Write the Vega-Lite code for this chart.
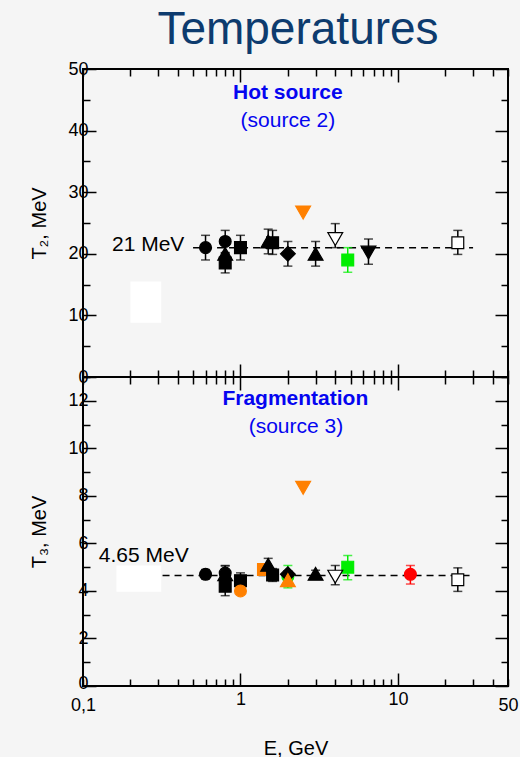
{
  "$schema": "https://vega.github.io/schema/vega-lite/v6.json",
  "background": "#f5f5f5",
  "padding": {"left": 28, "top": 7, "right": 4, "bottom": 0},
  "title": {
    "text": "Temperatures",
    "font": "Liberation Sans",
    "fontSize": 46,
    "fontWeight": "normal",
    "color": "#0d3b6e",
    "anchor": "middle",
    "dx": 24,
    "offset": 5
  },
  "spacing": 0,
  "bounds": "flush",
  "datasets": {
    "t2": [
      {"E": 0.6, "T": 21, "lo": 19, "hi": 23, "kind": "black", "symbol": "circle"},
      {"E": 0.8, "T": 22, "lo": 20.2, "hi": 23.8, "kind": "black", "symbol": "circle"},
      {"E": 0.8, "T": 20, "lo": 18, "hi": 22, "kind": "black", "symbol": "triangle-up"},
      {"E": 0.8, "T": 18.5, "lo": 16.9, "hi": 20.1, "kind": "black", "symbol": "square"},
      {"E": 1.0, "T": 21, "lo": 19, "hi": 23, "kind": "black", "symbol": "square"},
      {"E": 1.5, "T": 22, "lo": 20, "hi": 24, "kind": "black", "symbol": "triangle-up"},
      {"E": 1.6, "T": 21.8, "lo": 19.9, "hi": 23.8, "kind": "black", "symbol": "square"},
      {"E": 2.0, "T": 20, "lo": 18, "hi": 22, "kind": "black", "symbol": "diamond"},
      {"E": 2.5, "T": 26.7, "kind": "orange", "symbol": "triangle-down"},
      {"E": 3.0, "T": 20, "lo": 18, "hi": 22, "kind": "black", "symbol": "triangle-up"},
      {"E": 4.0, "T": 22.4, "lo": 21, "hi": 24.9, "kind": "open", "symbol": "triangle-down"},
      {"E": 4.8, "T": 19, "lo": 17, "hi": 21, "kind": "green", "symbol": "square"},
      {"E": 6.5, "T": 20.2, "lo": 18.3, "hi": 22.4, "kind": "black", "symbol": "triangle-down"},
      {"E": 24, "T": 21.8, "lo": 19.9, "hi": 23.8, "kind": "open", "symbol": "square"}
    ],
    "t3": [
      {"E": 0.6, "T": 4.7, "lo": 4.5, "hi": 4.9, "kind": "black", "symbol": "circle"},
      {"E": 0.8, "T": 4.75, "lo": 4.45, "hi": 5.05, "kind": "black", "symbol": "circle"},
      {"E": 0.8, "T": 4.7, "lo": 4.4, "hi": 5.07, "kind": "black", "symbol": "triangle-up"},
      {"E": 0.8, "T": 4.2, "lo": 3.8, "hi": 4.6, "kind": "black", "symbol": "square"},
      {"E": 1.0, "T": 4.43, "lo": 4.1, "hi": 4.76, "kind": "black", "symbol": "square"},
      {"E": 1.0, "T": 4.0, "lo": 3.85, "hi": 4.15, "kind": "orange", "symbol": "circle"},
      {"E": 1.4, "T": 4.9, "kind": "orange", "symbol": "square"},
      {"E": 1.5, "T": 5.1, "lo": 4.85, "hi": 5.37, "kind": "black", "symbol": "triangle-up"},
      {"E": 1.6, "T": 4.67, "lo": 4.4, "hi": 4.94, "kind": "black", "symbol": "square"},
      {"E": 2.0, "T": 4.7, "lo": 4.55, "hi": 4.85, "kind": "black", "symbol": "diamond"},
      {"E": 2.0, "T": 4.45, "kind": "orange", "symbol": "triangle-up"},
      {"E": 2.0, "T": 4.6, "lo": 4.13, "hi": 5.07, "kind": "green", "symbol": "circle"},
      {"E": 2.5, "T": 8.34, "kind": "orange", "symbol": "triangle-down"},
      {"E": 3.0, "T": 4.72, "lo": 4.57, "hi": 4.87, "kind": "black", "symbol": "triangle-up"},
      {"E": 4.0, "T": 4.6, "lo": 4.26, "hi": 5.07, "kind": "open", "symbol": "triangle-down"},
      {"E": 4.8, "T": 5.0, "lo": 4.47, "hi": 5.49, "kind": "green", "symbol": "square"},
      {"E": 12, "T": 4.7, "lo": 4.29, "hi": 5.07, "kind": "red", "symbol": "circle"},
      {"E": 24, "T": 4.47, "lo": 3.98, "hi": 4.97, "kind": "open", "symbol": "square"}
    ]
  },
  "vconcat": [
    {
      "width": 425,
      "height": 308,
      "resolve": {"axis": {"x": "independent", "y": "independent"}},
      "layer": [
        {
          "data": {"values": [{"x1": 0.5, "x2": 30, "y": 21}]},
          "mark": {"type": "rule", "color": "black", "strokeWidth": 1.5, "strokeDash": [7, 5]},
          "encoding": {
            "x": {"field": "x1", "type": "quantitative",
              "scale": {"type": "log", "domain": [0.1, 50], "nice": false},
              "axis": {"orient": "bottom", "title": null, "labels": false,
                "values": [0.1, 0.2, 0.3, 0.4, 0.5, 0.6, 0.7, 0.8, 0.9, 1, 2, 3, 4, 5, 6, 7, 8, 9, 10, 20, 30, 40, 50],
                "tickSize": {"condition": {"test": "datum.value == 1 || datum.value == 10", "value": -13}, "value": -7}}},
            "x2": {"field": "x2"},
            "y": {"field": "y", "type": "quantitative",
              "scale": {"domain": [0, 50], "nice": false},
              "axis": {"orient": "left", "title": "T₂, MeV", "titlePadding": 18,
                "values": [0, 5, 10, 15, 20, 25, 30, 35, 40, 45, 50],
                "labelExpr": "datum.value % 10 == 0 ? datum.label : ''",
                "tickSize": {"condition": {"test": "datum.value % 10 == 0", "value": -13}, "value": -7}}}
          }
        },
        {
          "data": {"values": [{"x1": 0.2, "x2": 0.314, "y1": 8.8, "y2": 15.5}]},
          "mark": {"type": "rect", "color": "white"},
          "encoding": {
            "x": {"field": "x1", "type": "quantitative",
              "axis": {"orient": "top", "title": null, "labels": false,
                "values": [0.1, 0.2, 0.3, 0.4, 0.5, 0.6, 0.7, 0.8, 0.9, 1, 2, 3, 4, 5, 6, 7, 8, 9, 10, 20, 30, 40, 50],
                "tickSize": {"condition": {"test": "datum.value == 1 || datum.value == 10", "value": -13}, "value": -7}}},
            "x2": {"field": "x2"},
            "y": {"field": "y1", "type": "quantitative",
              "axis": {"orient": "right", "title": null, "labels": false,
                "values": [0, 5, 10, 15, 20, 25, 30, 35, 40, 45, 50],
                "tickSize": {"condition": {"test": "datum.value % 10 == 0", "value": -13}, "value": -7}}},
            "y2": {"field": "y2"}
          }
        },
        {
          "data": {"name": "t2"},
          "transform": [{"filter": "isValid(datum.lo)"}],
          "mark": {"type": "rule", "strokeWidth": 1.5},
          "encoding": {
            "x": {"field": "E", "type": "quantitative", "axis": null},
            "y": {"field": "lo", "type": "quantitative", "axis": null},
            "y2": {"field": "hi"},
            "stroke": {"field": "kind", "type": "nominal", "legend": null,
              "scale": {"domain": ["black", "orange", "green", "red", "open"], "range": ["black", "#ff8000", "#00ee00", "#ff0000", "black"]}}
          }
        },
        {
          "data": {"name": "t2"},
          "transform": [{"filter": "isValid(datum.lo)"}, {"fold": ["lo", "hi"], "as": ["end", "val"]}],
          "mark": {"type": "tick", "orient": "horizontal", "size": 9, "thickness": 1.5},
          "encoding": {
            "x": {"field": "E", "type": "quantitative", "axis": null},
            "y": {"field": "val", "type": "quantitative", "axis": null},
            "color": {"field": "kind", "type": "nominal", "legend": null,
              "scale": {"domain": ["black", "orange", "green", "red", "open"], "range": ["black", "#ff8000", "#00ee00", "#ff0000", "black"]}}
          }
        },
        {
          "data": {"name": "t2"},
          "transform": [{"filter": "datum.symbol == 'circle' || datum.symbol == 'square'"}],
          "mark": {"type": "point", "filled": false, "size": 140, "strokeWidth": 1.2, "opacity": 1},
          "encoding": {
            "x": {"field": "E", "type": "quantitative", "axis": null},
            "y": {"field": "T", "type": "quantitative", "axis": null},
            "shape": {"field": "symbol", "type": "nominal", "legend": null,
              "scale": {"domain": ["circle", "square", "triangle-up", "triangle-down", "diamond"], "range": ["circle", "square", "triangle-up", "triangle-down", "diamond"]}},
            "fill": {"field": "kind", "type": "nominal", "legend": null,
              "scale": {"domain": ["black", "orange", "green", "red", "open"], "range": ["black", "#ff8000", "#00ee00", "#ff0000", "white"]}},
            "stroke": {"field": "kind", "type": "nominal", "legend": null,
              "scale": {"domain": ["black", "orange", "green", "red", "open"], "range": ["black", "#ff8000", "#00ee00", "#ff0000", "black"]}}
          }
        },
        {
          "data": {"name": "t2"},
          "transform": [{"filter": "datum.symbol != 'circle' && datum.symbol != 'square'"}],
          "mark": {"type": "point", "filled": false, "size": 220, "strokeWidth": 1.2, "opacity": 1},
          "encoding": {
            "x": {"field": "E", "type": "quantitative", "axis": null},
            "y": {"field": "T", "type": "quantitative", "axis": null},
            "shape": {"field": "symbol", "type": "nominal", "legend": null,
              "scale": {"domain": ["circle", "square", "triangle-up", "triangle-down", "diamond"], "range": ["circle", "square", "triangle-up", "triangle-down", "diamond"]}},
            "fill": {"field": "kind", "type": "nominal", "legend": null,
              "scale": {"domain": ["black", "orange", "green", "red", "open"], "range": ["black", "#ff8000", "#00ee00", "#ff0000", "white"]}},
            "stroke": {"field": "kind", "type": "nominal", "legend": null,
              "scale": {"domain": ["black", "orange", "green", "red", "open"], "range": ["black", "#ff8000", "#00ee00", "#ff0000", "black"]}}
          }
        },
        {
          "data": {"values": [{"x": 0.44, "y": 21, "label": "21 MeV"}]},
          "mark": {"type": "text", "align": "right", "baseline": "middle", "dy": -3, "fontSize": 21, "color": "black"},
          "encoding": {
            "x": {"field": "x", "type": "quantitative", "axis": null},
            "y": {"field": "y", "type": "quantitative", "axis": null},
            "text": {"field": "label"}
          }
        },
        {
          "data": {"values": [{"x": 2.0, "y": 45.2, "label": "Hot source"}]},
          "mark": {"type": "text", "align": "center", "baseline": "alphabetic", "fontSize": 21, "fontWeight": "bold", "color": "#0505f0"},
          "encoding": {
            "x": {"field": "x", "type": "quantitative", "axis": null},
            "y": {"field": "y", "type": "quantitative", "axis": null},
            "text": {"field": "label"}
          }
        },
        {
          "data": {"values": [{"x": 2.0, "y": 40.6, "label": "(source 2)"}]},
          "mark": {"type": "text", "align": "center", "baseline": "alphabetic", "fontSize": 21, "color": "#0505f0"},
          "encoding": {
            "x": {"field": "x", "type": "quantitative", "axis": null},
            "y": {"field": "y", "type": "quantitative", "axis": null},
            "text": {"field": "label"}
          }
        }
      ]
    },
    {
      "width": 425,
      "height": 309,
      "resolve": {"axis": {"x": "independent", "y": "independent"}},
      "layer": [
        {
          "data": {"values": [{"x1": 0.32, "x2": 30, "y": 4.65}]},
          "mark": {"type": "rule", "color": "black", "strokeWidth": 1.5, "strokeDash": [7, 5]},
          "encoding": {
            "x": {"field": "x1", "type": "quantitative",
              "scale": {"type": "log", "domain": [0.1, 50], "nice": false},
              "axis": {"orient": "bottom", "title": "E, GeV", "titlePadding": 24,
                "values": [0.1, 0.2, 0.3, 0.4, 0.5, 0.6, 0.7, 0.8, 0.9, 1, 2, 3, 4, 5, 6, 7, 8, 9, 10, 20, 30, 40, 50],
                "labelExpr": "datum.value == 0.1 ? '0,1' : (datum.value == 1 || datum.value == 10 || datum.value == 50 ? datum.label : '')",
                "labelPadding": 17,
                "tickSize": {"condition": {"test": "datum.value == 1 || datum.value == 10", "value": -13}, "value": -7}}},
            "x2": {"field": "x2"},
            "y": {"field": "y", "type": "quantitative",
              "scale": {"domain": [0, 13], "nice": false},
              "axis": {"orient": "left", "title": "T₃, MeV", "titlePadding": 18,
                "values": [0, 1, 2, 3, 4, 5, 6, 7, 8, 9, 10, 11, 12, 13],
                "labelExpr": "datum.value % 2 == 0 ? datum.label : ''",
                "labelOffset": {"condition": {"test": "datum.value == 0", "value": -3}, "value": 0},
                "tickSize": {"condition": {"test": "datum.value % 2 == 0", "value": -13}, "value": -7}}}
          }
        },
        {
          "data": {"values": [{"x1": 0.163, "x2": 0.314, "y1": 3.97, "y2": 5.07}]},
          "mark": {"type": "rect", "color": "white"},
          "encoding": {
            "x": {"field": "x1", "type": "quantitative",
              "axis": {"orient": "top", "title": null, "labels": false,
                "values": [0.1, 0.2, 0.3, 0.4, 0.5, 0.6, 0.7, 0.8, 0.9, 1, 2, 3, 4, 5, 6, 7, 8, 9, 10, 20, 30, 40, 50],
                "tickSize": {"condition": {"test": "datum.value == 1 || datum.value == 10", "value": -13}, "value": -7}}},
            "x2": {"field": "x2"},
            "y": {"field": "y1", "type": "quantitative",
              "axis": {"orient": "right", "title": null, "labels": false,
                "values": [0, 1, 2, 3, 4, 5, 6, 7, 8, 9, 10, 11, 12, 13],
                "tickSize": {"condition": {"test": "datum.value % 2 == 0", "value": -13}, "value": -7}}},
            "y2": {"field": "y2"}
          }
        },
        {
          "data": {"name": "t3"},
          "transform": [{"filter": "isValid(datum.lo)"}],
          "mark": {"type": "rule", "strokeWidth": 1.5},
          "encoding": {
            "x": {"field": "E", "type": "quantitative", "axis": null},
            "y": {"field": "lo", "type": "quantitative", "axis": null},
            "y2": {"field": "hi"},
            "stroke": {"field": "kind", "type": "nominal", "legend": null,
              "scale": {"domain": ["black", "orange", "green", "red", "open"], "range": ["black", "#ff8000", "#00ee00", "#ff0000", "black"]}}
          }
        },
        {
          "data": {"name": "t3"},
          "transform": [{"filter": "isValid(datum.lo)"}, {"fold": ["lo", "hi"], "as": ["end", "val"]}],
          "mark": {"type": "tick", "orient": "horizontal", "size": 9, "thickness": 1.5},
          "encoding": {
            "x": {"field": "E", "type": "quantitative", "axis": null},
            "y": {"field": "val", "type": "quantitative", "axis": null},
            "color": {"field": "kind", "type": "nominal", "legend": null,
              "scale": {"domain": ["black", "orange", "green", "red", "open"], "range": ["black", "#ff8000", "#00ee00", "#ff0000", "black"]}}
          }
        },
        {
          "data": {"name": "t3"},
          "transform": [{"filter": "datum.symbol == 'circle' || datum.symbol == 'square'"}],
          "mark": {"type": "point", "filled": false, "size": 140, "strokeWidth": 1.2, "opacity": 1},
          "encoding": {
            "x": {"field": "E", "type": "quantitative", "axis": null},
            "y": {"field": "T", "type": "quantitative", "axis": null},
            "shape": {"field": "symbol", "type": "nominal", "legend": null,
              "scale": {"domain": ["circle", "square", "triangle-up", "triangle-down", "diamond"], "range": ["circle", "square", "triangle-up", "triangle-down", "diamond"]}},
            "fill": {"field": "kind", "type": "nominal", "legend": null,
              "scale": {"domain": ["black", "orange", "green", "red", "open"], "range": ["black", "#ff8000", "#00ee00", "#ff0000", "white"]}},
            "stroke": {"field": "kind", "type": "nominal", "legend": null,
              "scale": {"domain": ["black", "orange", "green", "red", "open"], "range": ["black", "#ff8000", "#00ee00", "#ff0000", "black"]}}
          }
        },
        {
          "data": {"name": "t3"},
          "transform": [{"filter": "datum.symbol != 'circle' && datum.symbol != 'square'"}],
          "mark": {"type": "point", "filled": false, "size": 220, "strokeWidth": 1.2, "opacity": 1},
          "encoding": {
            "x": {"field": "E", "type": "quantitative", "axis": null},
            "y": {"field": "T", "type": "quantitative", "axis": null},
            "shape": {"field": "symbol", "type": "nominal", "legend": null,
              "scale": {"domain": ["circle", "square", "triangle-up", "triangle-down", "diamond"], "range": ["circle", "square", "triangle-up", "triangle-down", "diamond"]}},
            "fill": {"field": "kind", "type": "nominal", "legend": null,
              "scale": {"domain": ["black", "orange", "green", "red", "open"], "range": ["black", "#ff8000", "#00ee00", "#ff0000", "white"]}},
            "stroke": {"field": "kind", "type": "nominal", "legend": null,
              "scale": {"domain": ["black", "orange", "green", "red", "open"], "range": ["black", "#ff8000", "#00ee00", "#ff0000", "black"]}}
          }
        },
        {
          "data": {"values": [{"x": 0.126, "y": 4.65, "label": "4.65 MeV"}]},
          "mark": {"type": "text", "align": "left", "baseline": "alphabetic", "dy": -13, "fontSize": 21, "color": "black"},
          "encoding": {
            "x": {"field": "x", "type": "quantitative", "axis": null},
            "y": {"field": "y", "type": "quantitative", "axis": null},
            "text": {"field": "label"}
          }
        },
        {
          "data": {"values": [{"x": 2.23, "y": 11.82, "label": "Fragmentation"}]},
          "mark": {"type": "text", "align": "center", "baseline": "alphabetic", "fontSize": 21, "fontWeight": "bold", "color": "#0505f0"},
          "encoding": {
            "x": {"field": "x", "type": "quantitative", "axis": null},
            "y": {"field": "y", "type": "quantitative", "axis": null},
            "text": {"field": "label"}
          }
        },
        {
          "data": {"values": [{"x": 2.25, "y": 10.65, "label": "(source 3)"}]},
          "mark": {"type": "text", "align": "center", "baseline": "alphabetic", "fontSize": 21, "color": "#0505f0"},
          "encoding": {
            "x": {"field": "x", "type": "quantitative", "axis": null},
            "y": {"field": "y", "type": "quantitative", "axis": null},
            "text": {"field": "label"}
          }
        }
      ]
    }
  ],
  "config": {
    "font": "Liberation Sans",
    "view": {"stroke": "black", "strokeWidth": 2},
    "axis": {
      "domain": false,
      "grid": false,
      "ticks": true,
      "tickColor": "black",
      "tickWidth": 1.5,
      "labelFontSize": 18,
      "labelColor": "black",
      "labelPadding": 8,
      "labelFlush": false,
      "labelOverlap": false,
      "titleFontSize": 20,
      "titleFontWeight": "normal",
      "titleColor": "black"
    }
  }
}
